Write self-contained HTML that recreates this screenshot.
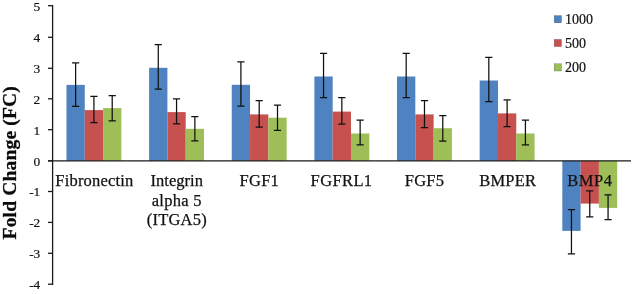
<!DOCTYPE html>
<html><head><meta charset="utf-8"><title>Fold Change chart</title>
<style>html,body{margin:0;padding:0;background:#fff}body{width:632px;height:294px;overflow:hidden}</style></head>
<body>
<svg width="632" height="294" viewBox="0 0 632 294" style="display:block">
<rect width="632" height="294" fill="#fff"/>
<rect x="66.47" y="84.90" width="18.30" height="75.90" fill="#4f82c0"/>
<rect x="84.77" y="110.10" width="18.30" height="50.70" fill="#c6514f"/>
<rect x="103.07" y="108.10" width="18.30" height="52.70" fill="#9ebf58"/>
<rect x="149.11" y="67.80" width="18.30" height="93.00" fill="#4f82c0"/>
<rect x="167.41" y="112.10" width="18.30" height="48.70" fill="#c6514f"/>
<rect x="185.71" y="128.80" width="18.30" height="32.00" fill="#9ebf58"/>
<rect x="231.75" y="84.80" width="18.30" height="76.00" fill="#4f82c0"/>
<rect x="250.05" y="114.40" width="18.30" height="46.40" fill="#c6514f"/>
<rect x="268.35" y="117.70" width="18.30" height="43.10" fill="#9ebf58"/>
<rect x="314.39" y="76.50" width="18.30" height="84.30" fill="#4f82c0"/>
<rect x="332.69" y="111.60" width="18.30" height="49.20" fill="#c6514f"/>
<rect x="350.99" y="133.50" width="18.30" height="27.30" fill="#9ebf58"/>
<rect x="397.03" y="76.50" width="18.30" height="84.30" fill="#4f82c0"/>
<rect x="415.33" y="114.40" width="18.30" height="46.40" fill="#c6514f"/>
<rect x="433.63" y="128.20" width="18.30" height="32.60" fill="#9ebf58"/>
<rect x="479.67" y="80.50" width="18.30" height="80.30" fill="#4f82c0"/>
<rect x="497.97" y="113.40" width="18.30" height="47.40" fill="#c6514f"/>
<rect x="516.27" y="133.50" width="18.30" height="27.30" fill="#9ebf58"/>
<rect x="562.31" y="160.80" width="18.30" height="70.10" fill="#4f82c0"/>
<rect x="580.61" y="160.80" width="18.30" height="42.80" fill="#c6514f"/>
<rect x="598.91" y="160.80" width="18.30" height="47.10" fill="#9ebf58"/>
<g stroke="#1a1a1a" stroke-width="1.3" fill="none">
<line x1="52.6" y1="5.1" x2="52.6" y2="284.9"/>
<line x1="48" y1="160.8" x2="631" y2="160.8"/>
<line x1="48" y1="5.70" x2="52.6" y2="5.70"/>
<line x1="48" y1="37.30" x2="52.6" y2="37.30"/>
<line x1="48" y1="68.30" x2="52.6" y2="68.30"/>
<line x1="48" y1="98.80" x2="52.6" y2="98.80"/>
<line x1="48" y1="129.70" x2="52.6" y2="129.70"/>
<line x1="48" y1="160.80" x2="52.6" y2="160.80"/>
<line x1="48" y1="191.50" x2="52.6" y2="191.50"/>
<line x1="48" y1="222.40" x2="52.6" y2="222.40"/>
<line x1="48" y1="253.30" x2="52.6" y2="253.30"/>
<line x1="48" y1="284.20" x2="52.6" y2="284.20"/>
</g>
<g stroke="#111" stroke-width="1.25" fill="none">
<path d="M72.02 62.80H79.22M75.62 62.80V106.30M72.02 106.30H79.22"/>
<path d="M90.32 96.30H97.52M93.92 96.30V122.70M90.32 122.70H97.52"/>
<path d="M108.62 95.50H115.82M112.22 95.50V120.90M108.62 120.90H115.82"/>
<path d="M154.66 44.70H161.86M158.26 44.70V89.00M154.66 89.00H161.86"/>
<path d="M172.96 98.80H180.16M176.56 98.80V123.90M172.96 123.90H180.16"/>
<path d="M191.26 116.70H198.46M194.86 116.70V140.90M191.26 140.90H198.46"/>
<path d="M237.30 61.90H244.50M240.90 61.90V106.20M237.30 106.20H244.50"/>
<path d="M255.60 100.70H262.80M259.20 100.70V127.20M255.60 127.20H262.80"/>
<path d="M273.90 105.00H281.10M277.50 105.00V130.30M273.90 130.30H281.10"/>
<path d="M319.94 53.30H327.14M323.54 53.30V97.60M319.94 97.60H327.14"/>
<path d="M338.24 97.50H345.44M341.84 97.50V124.00M338.24 124.00H345.44"/>
<path d="M356.54 120.20H363.74M360.14 120.20V144.80M356.54 144.80H363.74"/>
<path d="M402.58 53.30H409.78M406.18 53.30V97.60M402.58 97.60H409.78"/>
<path d="M420.88 100.70H428.08M424.48 100.70V127.70M420.88 127.70H428.08"/>
<path d="M439.18 115.70H446.38M442.78 115.70V141.10M439.18 141.10H446.38"/>
<path d="M485.22 57.40H492.42M488.82 57.40V101.60M485.22 101.60H492.42"/>
<path d="M503.52 99.80H510.72M507.12 99.80V126.50M503.52 126.50H510.72"/>
<path d="M521.82 120.20H529.02M525.42 120.20V144.80M521.82 144.80H529.02"/>
<path d="M567.86 209.60H575.06M571.46 209.60V253.80M567.86 253.80H575.06"/>
<path d="M586.16 190.80H593.36M589.76 190.80V216.90M586.16 216.90H593.36"/>
<path d="M604.46 194.80H611.66M608.06 194.80V219.70M604.46 219.70H611.66"/>
</g>
<g font-family="'Liberation Serif', serif" font-size="13.4" fill="#111" stroke="#111" stroke-width="0.2" text-anchor="end">
<text x="40.3" y="10.60">5</text>
<text x="40.3" y="42.20">4</text>
<text x="40.3" y="73.20">3</text>
<text x="40.3" y="103.70">2</text>
<text x="40.3" y="134.60">1</text>
<text x="40.3" y="165.70">0</text>
<text x="40.3" y="196.40">-1</text>
<text x="40.3" y="227.30">-2</text>
<text x="40.3" y="258.20">-3</text>
<text x="40.3" y="289.10">-4</text>
</g>
<text transform="translate(16.3 162.8) rotate(-90)" text-anchor="middle" font-family="'Liberation Serif', serif" font-weight="bold" font-size="19.5" fill="#0a0a0a" stroke="#0a0a0a" stroke-width="0.3" textLength="153.2" lengthAdjust="spacing">Fold Change (FC)</text>
<g font-family="'Liberation Serif', serif" font-size="16.5" fill="#111" stroke="#111" stroke-width="0.25">
<text x="55.30" y="186" textLength="78.00" lengthAdjust="spacing">Fibronectin</text>
<text x="150.50" y="186" textLength="52.40" lengthAdjust="spacing">Integrin</text>
<text x="151.70" y="205.6" textLength="49.90" lengthAdjust="spacing">alpha 5</text>
<text x="146.70" y="225.3" textLength="60.00" lengthAdjust="spacing">(ITGA5)</text>
<text x="239.60" y="186" textLength="39.20" lengthAdjust="spacing">FGF1</text>
<text x="310.60" y="186" textLength="61.50" lengthAdjust="spacing">FGFRL1</text>
<text x="404.80" y="186" textLength="39.20" lengthAdjust="spacing">FGF5</text>
<text x="479.20" y="186" textLength="56.90" lengthAdjust="spacing">BMPER</text>
<text x="567.30" y="186" textLength="44.80" lengthAdjust="spacing">BMP4</text>
</g>
<g font-family="'Liberation Serif', serif" font-size="14" fill="#111" stroke="#111" stroke-width="0.2">
<rect x="554.2" y="15.60" width="7.3" height="7.2" fill="#4f82c0"/>
<text x="565" y="23.70">1000</text>
<rect x="554.2" y="39.40" width="7.3" height="7.2" fill="#c6514f"/>
<text x="565" y="47.50">500</text>
<rect x="554.2" y="63.80" width="7.3" height="7.2" fill="#9ebf58"/>
<text x="565" y="71.90">200</text>
</g>
</svg>
</body></html>
